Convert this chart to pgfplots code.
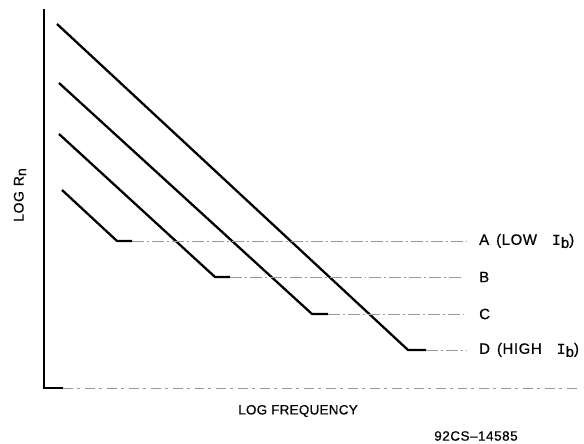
\documentclass[border=0pt]{standalone}
\usepackage{fontspec}
\setmainfont{Liberation Sans}[FakeBold=0.5, LetterSpace=4]
\newfontfamily\serifI{Liberation Mono}[FakeBold=0.5]
\usepackage{pgfplots}
\pgfplotsset{compat=1.18}
\newcommand{\Ib}{{\serifI I}\raisebox{-0.4ex}{b}}
\begin{document}
\begin{tikzpicture}
\begin{axis}[
  scale only axis, width=584bp, height=444bp,
  xmin=0, xmax=584, ymin=0, ymax=444,
  hide axis, clip=false,
]
\path (axis cs:0,0) rectangle (axis cs:584,444);
% axes
\addplot[black, line width=1.6pt] coordinates {(44,435) (44,56) (63,56)};
\addplot[black!40, line width=0.8pt, dash pattern=on 10pt off 4pt on 3pt off 5pt] coordinates {(63,56) (578,56)};
% response curves (thick part)
\addplot[black, line width=2.3pt, line join=round] coordinates {(57,420) (408,94) (426,94)};
\addplot[black, line width=2.3pt, line join=round] coordinates {(59,361) (312,130) (328,130)};
\addplot[black, line width=2.3pt, line join=round] coordinates {(59,310) (215,167) (230,167)};
\addplot[black, line width=2.3pt, line join=round] coordinates {(62,254) (117,203) (132,203)};
% flat continuations
\addplot[black!40, line width=0.8pt, dash pattern=on 12pt off 3pt on 2pt off 3pt] coordinates {(426,94) (466,94)};
\addplot[black!40, line width=0.8pt, dash pattern=on 12pt off 3pt on 2pt off 3pt] coordinates {(328,130) (465,130)};
\addplot[black!40, line width=0.8pt, dash pattern=on 12pt off 3pt on 2pt off 3pt] coordinates {(230,167) (463,167)};
\addplot[black!40, line width=0.8pt, dash pattern=on 12pt off 3pt on 2pt off 3pt] coordinates {(132,203) (466,203)};
% labels
\node[anchor=west, font=\fontsize{15}{16}\selectfont, inner sep=0pt] at (axis cs:479,203) {A\hspace{7bp}(LOW\hspace{15bp}\Ib)};
\node[anchor=west, font=\fontsize{15}{16}\selectfont, inner sep=0pt] at (axis cs:479,167) {B};
\node[anchor=west, font=\fontsize{15}{16}\selectfont, inner sep=0pt] at (axis cs:479,130) {C};
\node[anchor=west, font=\fontsize{15}{16}\selectfont, inner sep=0pt] at (axis cs:479,94) {D\hspace{7bp}(HIGH\hspace{15bp}\Ib)};
\node[font=\fontsize{13.5}{15}\selectfont\addfontfeature{LetterSpace=2}, inner sep=0pt] at (axis cs:298,33) {LOG FREQUENCY};
\node[rotate=90, font=\fontsize{14}{15}\selectfont, inner sep=0pt] at (axis cs:20,249) {LOG\hspace{5bp}R\raisebox{-0.35ex}{n}};
\node[font=\fontsize{13.5}{15}\selectfont, inner sep=0pt] at (axis cs:476,8) {92CS--14585};
\end{axis}
\end{tikzpicture}
\end{document}
